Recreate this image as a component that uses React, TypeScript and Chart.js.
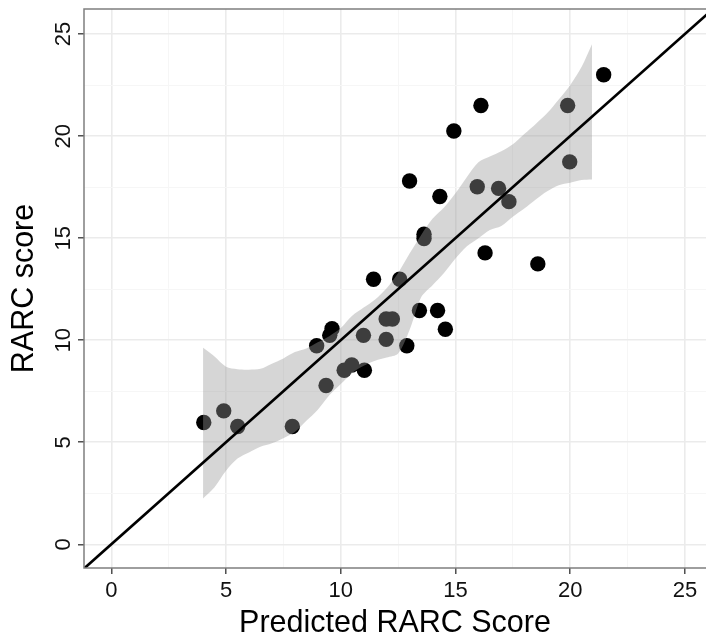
import React, { useEffect, useRef } from 'react';
import { Chart, registerables } from 'chart.js';

Chart.register(...registerables);

// Observed points: predicted RARC score (x) vs RARC score (y)
const predictedScore = [4.03, 4.90, 5.51, 7.89, 8.95, 9.36, 9.52, 9.62, 10.15, 10.48, 11.03, 10.99, 11.43, 11.98, 11.98, 12.25, 12.57, 12.88, 13.00, 13.43, 13.63, 13.63, 14.22, 14.32, 14.56, 14.93, 15.95, 16.11, 16.29, 16.88, 17.33, 18.59, 19.89, 19.98, 21.46];
const rarcScore = [5.97, 6.54, 5.77, 5.77, 9.73, 7.78, 10.24, 10.56, 8.53, 8.79, 8.53, 10.24, 12.99, 10.04, 11.04, 11.04, 12.99, 9.73, 17.80, 11.46, 15.19, 14.98, 11.46, 17.04, 10.54, 20.25, 17.52, 21.50, 14.28, 17.44, 16.79, 13.74, 21.50, 18.74, 23.01];

// Confidence band (smoother ribbon)
const bandX = [4.0, 4.5, 5.0, 5.5, 6.0, 6.5, 7.0, 7.5, 8.0, 8.5, 9.0, 9.5, 10.0, 10.5, 11.0, 11.5, 12.0, 12.5, 13.0, 13.5, 14.0, 14.5, 15.0, 15.5, 16.0, 16.5, 17.0, 17.5, 18.0, 18.5, 19.0, 19.5, 20.0, 20.5, 20.95];
const bandUpper = [9.63, 9.2, 8.7, 8.58, 8.56, 8.6, 8.85, 9.11, 9.42, 9.6, 9.9, 10.2, 10.6, 11.2, 11.6, 12.0, 12.55, 13.3, 14.25, 15.15, 15.95, 16.5, 17.2, 18.0, 18.72, 19.0, 19.26, 19.6, 20.1, 20.6, 21.13, 21.8, 22.5, 23.4, 24.5];
const bandLower = [2.25, 2.8, 3.6, 4.2, 4.5, 4.78, 4.95, 5.2, 5.5, 6.05, 6.6, 7.3, 7.85, 8.4, 8.75, 9.0, 9.15, 9.35, 10.5, 12.1, 12.7, 13.3, 14.0, 14.6, 15.0, 15.4, 15.6, 16.05, 16.45, 16.9, 17.3, 17.6, 17.72, 17.85, 17.88];

// Identity line y = x
const identityLine = [-3, 28];

// Axis grid (major every 5, minor in between) and tick labels
const gridValues = [0, 2.5, 5, 7.5, 10, 12.5, 15, 17.5, 20, 22.5, 25];
const tickLabels = ['0', '5', '10', '15', '20', '25'];

const FONT = "'Liberation Sans', Arial, Helvetica, sans-serif";

const isMajor = (v: number | undefined) => v !== undefined && Math.abs(v % 5) < 1e-9;

const panelBorder = {
  id: 'panelBorder',
  afterDraw(chart: any) {
    const { ctx, chartArea } = chart;
    const { left, top, right, bottom } = chartArea;
    ctx.save();
    ctx.strokeStyle = '#7f7f7f';
    ctx.lineWidth = 1.5;
    ctx.beginPath();
    ctx.moveTo(right + 2, top);
    ctx.lineTo(left, top);
    ctx.lineTo(left, bottom);
    ctx.lineTo(right + 2, bottom);
    ctx.stroke();
    ctx.restore();
  },
};

function zeroPadding(scale: any) {
  scale.paddingLeft = 0;
  scale.paddingRight = 0;
  scale.paddingTop = 0;
  scale.paddingBottom = 0;
}

function axisCommon() {
  return {
    type: 'linear' as const,
    afterBuildTicks: (scale: any) => {
      scale.ticks = gridValues.map((v) => ({ value: v }));
    },
    border: { display: false },
    grid: {
      color: (c: any) => (isMajor(c.tick?.value) ? '#ebebeb' : '#f6f6f6'),
      lineWidth: (c: any) => (isMajor(c.tick?.value) ? 1.6 : 1),
      tickColor: (c: any) => (isMajor(c.tick?.value) ? '#333333' : 'rgba(0,0,0,0)'),
      tickLength: 6,
      tickWidth: 1.3,
    },
  };
}

export default function App() {
  const canvasRef = useRef<HTMLCanvasElement | null>(null);

  useEffect(() => {
    if (!canvasRef.current) return;
    const points = predictedScore.map((x, i) => ({ x, y: rarcScore[i] }));
    const upper = bandX.map((x, i) => ({ x, y: bandUpper[i] }));
    const lower = bandX.map((x, i) => ({ x, y: bandLower[i] }));
    const line = identityLine.map((v) => ({ x: v, y: v }));

    const chart = new Chart(canvasRef.current, {
      type: 'scatter',
      data: {
        datasets: [
          {
            type: 'line',
            label: 'identity',
            data: line,
            borderColor: '#000000',
            borderWidth: 2.6,
            pointRadius: 0,
            fill: false,
            order: 0,
          } as any,
          {
            type: 'line',
            label: 'upper',
            data: upper,
            borderColor: 'rgba(0,0,0,0)',
            borderWidth: 0,
            pointRadius: 0,
            backgroundColor: 'rgba(153,153,153,0.4)',
            fill: '+1',
            tension: 0.3,
            order: 1,
          } as any,
          {
            type: 'line',
            label: 'lower',
            data: lower,
            borderColor: 'rgba(0,0,0,0)',
            borderWidth: 0,
            pointRadius: 0,
            fill: false,
            tension: 0.3,
            order: 1,
          } as any,
          {
            type: 'scatter',
            label: 'points',
            data: points,
            backgroundColor: '#000000',
            borderWidth: 0,
            pointRadius: 7.7,
            order: 2,
          } as any,
        ],
      },
      options: {
        responsive: false,
        animation: false,
        devicePixelRatio: 1,
        layout: { autoPadding: false, padding: { top: 9, right: 0, left: 0, bottom: 0 } },
        plugins: {
          legend: { display: false },
          tooltip: { enabled: false },
        },
        scales: {
          x: {
            ...axisCommon(),
            min: -1.19,
            max: 25.92,
            afterFit: (scale: any) => {
              scale.height = 75;
              zeroPadding(scale);
            },
            ticks: {
              autoSkip: false,
              maxRotation: 0,
              minRotation: 0,
              padding: 4,
              color: '#111111',
              font: { family: FONT, size: 22 },
              callback: (v: any) => (isMajor(Number(v)) ? tickLabels[Math.round(Number(v) / 5)] : ''),
            },
            title: {
              display: true,
              text: 'Predicted RARC Score',
              color: '#000000',
              font: { family: FONT, size: 30.5 },
              padding: { top: 0, bottom: 1 },
            },
          },
          y: {
            ...axisCommon(),
            min: -1.16,
            max: 26.23,
            afterFit: (scale: any) => {
              scale.width = 84;
              zeroPadding(scale);
            },
            ticks: {
              autoSkip: false,
              minRotation: 90,
              maxRotation: 90,
              crossAlign: 'center',
              padding: 2,
              color: '#111111',
              font: { family: FONT, size: 22 },
              callback: (v: any) => (isMajor(Number(v)) ? tickLabels[Math.round(Number(v) / 5)] : ''),
            },
            title: {
              display: true,
              text: 'RARC score',
              color: '#000000',
              font: { family: FONT, size: 30.5 },
              padding: { top: 6, bottom: 0 },
            },
          },
        },
      } as any,
      plugins: [panelBorder],
    });

    return () => chart.destroy();
  }, []);

  return (
    <div
      style={{
        position: 'absolute',
        left: 0,
        top: 0,
        width: 706,
        height: 643,
        overflow: 'hidden',
        background: '#ffffff',
      }}
    >
      <canvas
        ref={canvasRef}
        width={706}
        height={643}
        style={{ display: 'block', width: 706, height: 643 }}
      />
    </div>
  );
}
